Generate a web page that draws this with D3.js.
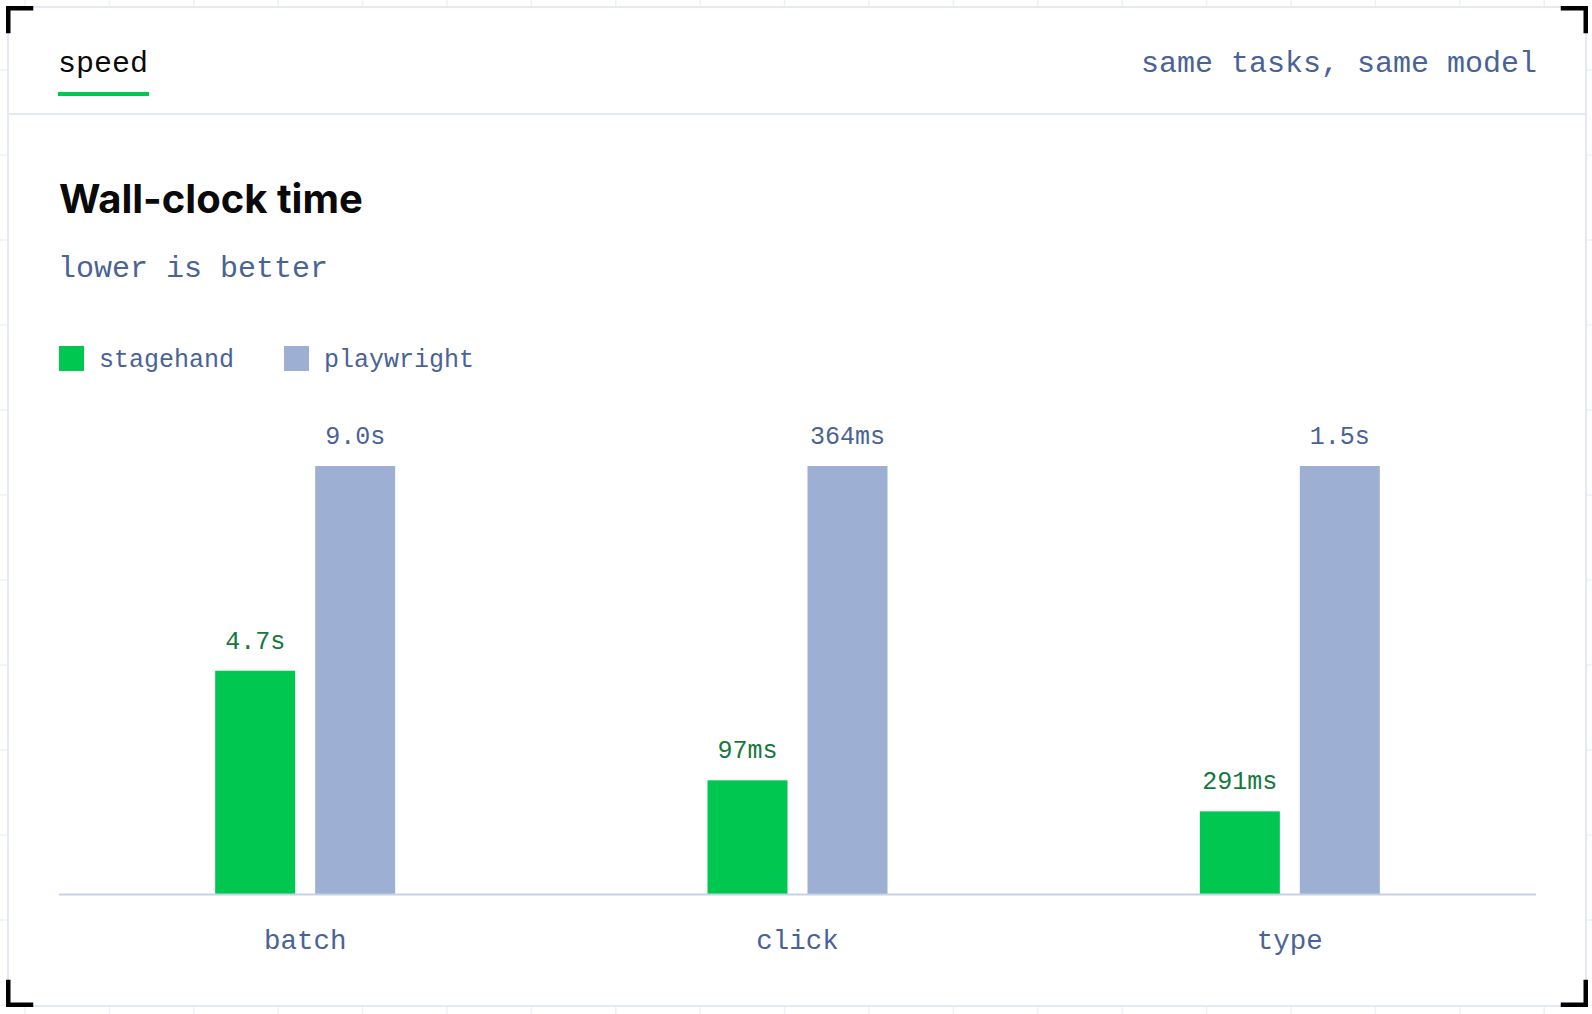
<!DOCTYPE html>
<html>
<head>
<meta charset="utf-8">
<script src="https://cdn.jsdelivr.net/npm/d3@7"></script>
<style>
  body { margin: 0; background: #fff; }
  svg { display: block; }
</style>
</head>
<body>
<svg width="1592" height="1014"></svg>
<script>
// data
const categories = ['batch', 'click', 'type'];
const series = ['stagehand', 'playwright'];
// wall-clock time in ms
const stagehandMs = [4700, 97, 291];
const playwrightMs = [9000, 364, 1500];

const colors = {stagehand: '#00c750', playwright: '#9db0d3'};
const labelColors = {stagehand: '#15793c', playwright: '#4a6396'};
const mono = '"Liberation Mono", "DejaVu Sans Mono", monospace';
const blue = '#4a6396';

const svg = d3.select('svg');
const W = +svg.attr('width'), H = +svg.attr('height');

// background grid outside the card
const grid = svg.append('g').attr('stroke', '#eef1f8').attr('stroke-width', 1.5);
grid.selectAll('line.v').data(d3.range(25, W, 84.4)).enter().append('line')
    .attr('x1', d => d).attr('x2', d => d).attr('y1', 0).attr('y2', H);
grid.selectAll('line.h').data(d3.range(-15, H, 85)).enter().append('line')
    .attr('y1', d => d).attr('y2', d => d).attr('x1', 0).attr('x2', W);

// card
const card = {x: 8, y: 7, w: 1578, h: 999};
svg.append('rect')
    .attr('x', card.x).attr('y', card.y).attr('width', card.w).attr('height', card.h)
    .attr('fill', '#fff').attr('stroke', '#e4e9f3').attr('stroke-width', 2);

// corner brackets
const arm = 25, th = 4.5;
[[6, 6, 1, 1], [1588, 6, -1, 1], [6, 1007, 1, -1], [1588, 1007, -1, -1]].forEach(([cx, cy, sx, sy]) => {
    svg.append('path')
        .attr('d', `M${cx},${cy + sy * arm}V${cy}H${cx + sx * arm}`)
        .attr('fill', 'none').attr('stroke', '#000').attr('stroke-width', th)
        .attr('transform', `translate(${sx * th / 2},${sy * th / 2})`);
});

// header
svg.append('text').attr('x', 58).attr('y', 72)
    .style('font-family', mono).style('font-size', '30px').attr('fill', '#0a0a0a')
    .text('speed');
svg.append('rect').attr('x', 58).attr('y', 92).attr('width', 91).attr('height', 4).attr('fill', colors.stagehand);
svg.append('text').attr('x', 1537).attr('y', 72).attr('text-anchor', 'end')
    .style('font-family', mono).style('font-size', '30px').attr('fill', blue)
    .text('same tasks, same model');
svg.append('line').attr('x1', card.x).attr('x2', card.x + card.w).attr('y1', 114).attr('y2', 114)
    .attr('stroke', '#e4e9f3').attr('stroke-width', 2);

// title
svg.append('text').attr('x', 59).attr('y', 213)
    .style('font-family', 'Inter, "Noto Sans", sans-serif').style('font-size', '40px')
    .style('font-weight', 700).attr('fill', '#0a0a0a')
    .text('Wall-clock time');
svg.append('text').attr('x', 58).attr('y', 277)
    .style('font-family', mono).style('font-size', '30px').attr('fill', blue)
    .text('lower is better');

// legend
const legend = svg.append('g').selectAll('g').data(series).enter().append('g')
    .attr('transform', (d, i) => `translate(${[59, 284][i]},346)`);
legend.append('rect').attr('width', 25).attr('height', 25).attr('fill', d => colors[d]);
legend.append('text').attr('x', 40).attr('y', 21)
    .style('font-family', mono).style('font-size', '25px').attr('fill', blue)
    .text(d => d);

// chart
const plot = {left: 59, right: 1536, top: 466, bottom: 894.5};
const x0 = d3.scaleBand().domain(categories).range([plot.left, plot.right]);
const x1 = d3.scaleBand().domain(series)
    .range([x0.bandwidth() / 2 - 90, x0.bandwidth() / 2 + 90]).paddingInner(0.2);

const rows = categories.map((c, i) => ({
    cat: c,
    vals: {stagehand: stagehandMs[i], playwright: playwrightMs[i]}
}));
// each group scaled to its own slowest value
rows.forEach(r => {
    r.y = d3.scaleLinear().domain([0, d3.max(series, s => r.vals[s])]).range([plot.bottom, plot.top]);
});

const fmt = v => v >= 1000 ? (v / 1000).toFixed(1) + 's' : v + 'ms';

const groups = svg.append('g').selectAll('g').data(rows).enter().append('g')
    .attr('transform', d => `translate(${x0(d.cat)},0)`);

const bars = groups.selectAll('g').data(r => series.map(s => ({s, v: r.vals[s], y: r.y}))).enter().append('g');
bars.append('rect')
    .attr('x', d => x1(d.s)).attr('width', x1.bandwidth())
    .attr('y', d => d.y(d.v)).attr('height', d => plot.bottom - d.y(d.v))
    .attr('fill', d => colors[d.s]);
bars.append('text')
    .attr('x', d => x1(d.s) + x1.bandwidth() / 2).attr('y', d => d.y(d.v) - 22)
    .attr('text-anchor', 'middle')
    .style('font-family', mono).style('font-size', '25px').attr('fill', d => labelColors[d.s])
    .text(d => fmt(d.v));

// baseline + category labels
svg.append('line').attr('x1', plot.left).attr('x2', plot.right).attr('y1', plot.bottom).attr('y2', plot.bottom)
    .attr('stroke', '#c5d2e6').attr('stroke-width', 2);
const xAxis = d3.axisBottom(x0).tickSize(0).tickPadding(0);
const ax = svg.append('g').attr('transform', `translate(0,${plot.bottom})`).call(xAxis);
ax.select('.domain').remove();
ax.selectAll('text')
    .attr('dy', null).attr('y', 54)
    .style('font-family', mono).style('font-size', '27.5px').attr('fill', blue);
</script>
</body>
</html>
